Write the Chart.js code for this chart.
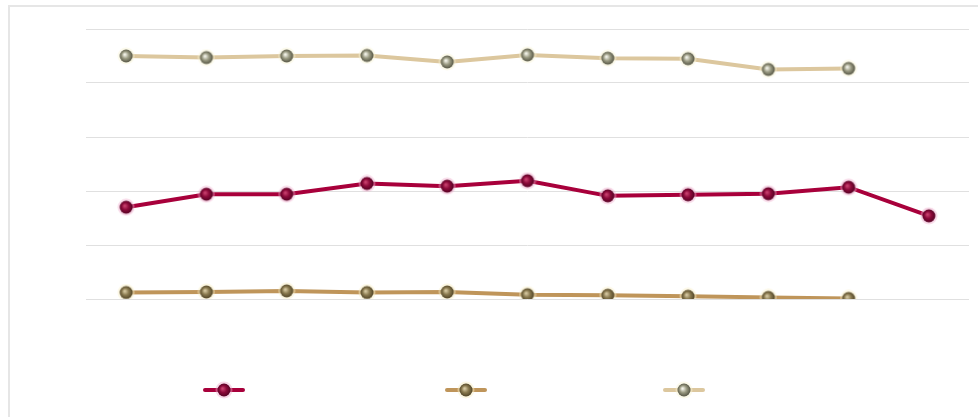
<!DOCTYPE html>
<html>
<head>
<meta charset="utf-8">
<script src="https://cdn.jsdelivr.net/npm/chart.js@4/dist/chart.umd.min.js"></script>
<style>
  html, body { margin: 0; padding: 0; background: #fff; overflow: hidden; }
  #frame { position: absolute; left: 8px; top: 5px; width: 990px; height: 430px; border: 2px solid #e6e6e6; box-sizing: border-box; }
  #wrap { position: absolute; left: 0; top: 0; width: 978px; height: 417px; }
</style>
</head>
<body>
<div id="frame"></div>
<div id="wrap"><canvas id="c" width="978" height="417"></canvas></div>
<script>
// ---- data ----
const categories = ['1', '2', '3', '4', '5', '6', '7', '8', '9', '10', '11'];
const seriesRed   = [17.0, 19.4, 19.4, 21.4, 20.9, 21.9, 19.1, 19.3, 19.5, 20.7, 15.4];
const seriesBrown = [1.2, 1.3, 1.5, 1.2, 1.3, 0.8, 0.7, 0.5, 0.3, 0.1, null];
const seriesBeige = [45.0, 44.7, 45.0, 45.1, 43.9, 45.2, 44.6, 44.5, 42.5, 42.7, null];
const yTicks = [0, 10, 20, 30, 40, 50];

function ball(base, light, dark, halo) {
  const s = 18, cv = document.createElement('canvas');
  cv.width = s; cv.height = s;
  const g = cv.getContext('2d');
  g.fillStyle = halo;
  g.beginPath(); g.arc(s/2, s/2, 8.5, 0, Math.PI*2); g.fill();
  const gr = g.createRadialGradient(s/2 - 1.5, s/2 - 1.5, 0.5, s/2, s/2, 7);
  gr.addColorStop(0, light);
  gr.addColorStop(0.45, base);
  gr.addColorStop(1, dark);
  g.fillStyle = gr;
  g.beginPath(); g.arc(s/2, s/2, 6.5, 0, Math.PI*2); g.fill();
  return cv;
}
const ptRed   = ball('#8c0a3a', '#c8406e', '#4e0020', 'rgba(240,170,205,0.45)');
const ptBrown = ball('#8a7a50', '#d6c9a2', '#4a3e22', 'rgba(250,240,200,0.5)');
const ptBeige = ball('#9c9c84', '#f4f4ea', '#4c4c3c', 'rgba(250,245,215,0.5)');

const colors = { red: '#a8003b', brown: '#bf955a', beige: '#dcc79e' };

const legendPlugin = {
  id: 'lineLegend',
  afterDraw(chart, args, opts) {
    const ctx = chart.ctx;
    opts.items.forEach(it => {
      ctx.save();
      ctx.strokeStyle = it.color;
      ctx.lineWidth = 4;
      ctx.lineCap = 'round';
      ctx.beginPath();
      ctx.moveTo(it.x - 19, opts.y);
      ctx.lineTo(it.x + 19, opts.y);
      ctx.stroke();
      ctx.drawImage(it.img, it.x - 9, opts.y - 9);
      ctx.restore();
    });
  }
};

new Chart(document.getElementById('c'), {
  type: 'line',
  data: {
    labels: categories,
    datasets: [
      { data: seriesRed, borderColor: colors.red, borderWidth: 4, pointStyle: ptRed, tension: 0 },
      { data: seriesBrown, borderColor: colors.brown, borderWidth: 4, pointStyle: ptBrown, tension: 0 },
      { data: seriesBeige, borderColor: colors.beige, borderWidth: 4, pointStyle: ptBeige, tension: 0 }
    ]
  },
  options: {
    responsive: false,
    animation: false,
    events: [],
    layout: { padding: { left: 86, right: 9, top: 29, bottom: 118 } },
    plugins: {
      legend: { display: false },
      tooltip: { enabled: false },
      lineLegend: {
        y: 390,
        items: [
          { x: 224, color: colors.red, img: ptRed },
          { x: 466, color: colors.brown, img: ptBrown },
          { x: 684, color: colors.beige, img: ptBeige }
        ]
      }
    },
    scales: {
      x: {
        offset: true,
        grid: { display: false, drawTicks: false },
        border: { display: false },
        ticks: { display: false }
      },
      y: {
        min: 0, max: 50,
        afterBuildTicks(axis) { axis.ticks = yTicks.map(v => ({ value: v })); },
        grid: { color: '#e0e0e0', lineWidth: 1, drawTicks: false },
        border: { display: false },
        ticks: { display: false }
      }
    }
  },
  plugins: [legendPlugin]
});
</script>
</body>
</html>
